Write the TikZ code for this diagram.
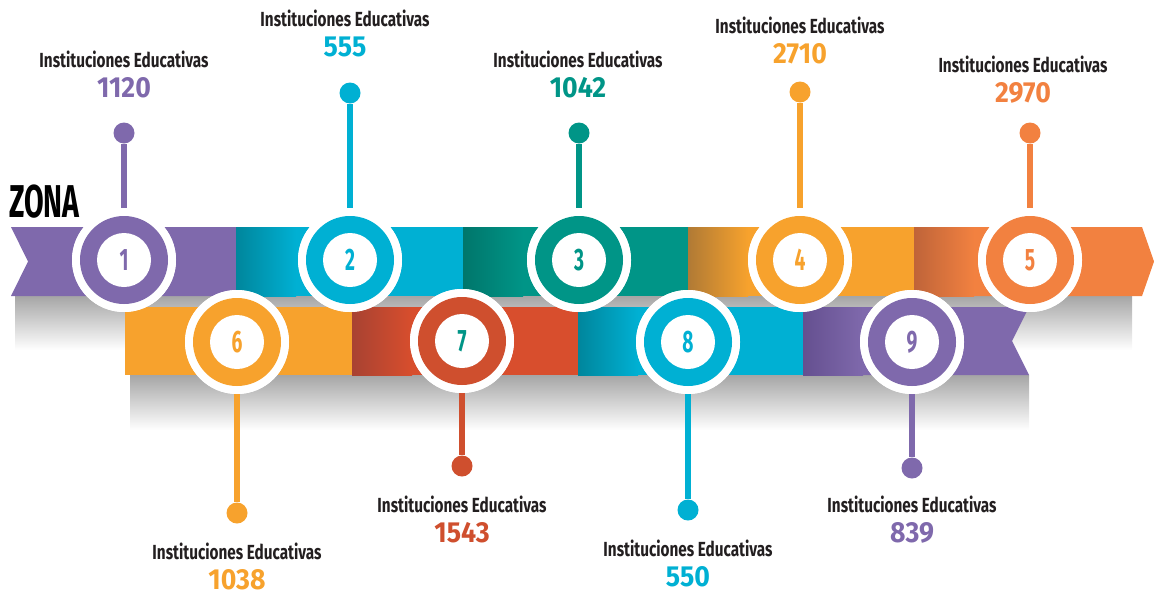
\documentclass[tikz,border=0pt]{standalone}
\usepackage{fontspec}
\setmainfont{Fira Sans}
\newfontfamily\labfont[FakeStretch=0.75]{Fira Sans}
\newfontfamily\valfont[FakeStretch=0.92]{Fira Sans}
\newfontfamily\numfont[FakeStretch=0.62]{Fira Sans}
\definecolor{cpurple}{HTML}{7F69AC}
\definecolor{cblue}{HTML}{00B0D3}
\definecolor{cteal}{HTML}{009587}
\definecolor{cyellow}{HTML}{F7A22D}
\definecolor{corange}{HTML}{F28140}
\definecolor{cred}{HTML}{D84E2D}
\definecolor{cred2}{HTML}{CF4F2E}
\definecolor{dblue}{HTML}{00869C}
\definecolor{dteal}{HTML}{00766B}
\definecolor{dyellow}{HTML}{B07A35}
\definecolor{dorange}{HTML}{BF6439}
\definecolor{dred}{HTML}{A84232}
\definecolor{dpurple}{HTML}{655090}
\definecolor{ctext}{HTML}{231F20}
\begin{document}
\begin{tikzpicture}[x=0.5pt,y=-0.5pt,
  outer/.style={circle,fill=white,minimum size=52pt,inner sep=0pt},
  dotnode/.style={circle,fill=#1,minimum size=10.5pt,inner sep=0pt},
  stem/.style={draw=#1,line width=3pt},
  title/.style={anchor=base,text=ctext,font=\labfont\bfseries\fontsize{10.2}{12}\selectfont,inner sep=0pt},
  value/.style={anchor=base,text=#1,font=\valfont\bfseries\fontsize{14.5}{16}\selectfont,inner sep=0pt},
  digit/.style={text=#1,font=\numfont\bfseries\fontsize{15.5}{17}\selectfont,inner sep=0pt}]
\useasboundingbox (0,0) rectangle (1154,594);
% shadows
\shade[top color=black!35,bottom color=white] (15,296) rectangle (1132,350);
\shade[top color=black!35,bottom color=white] (130,375) rectangle (1029,430);
% bottom band
\fill[cyellow] (125,307) rectangle (352,375);
\fill[cred] (352,307) rectangle (578,375);
\shade[left color=dred,right color=cred] (352,307) rectangle (412,375);
\fill[cblue] (578,307) rectangle (803,375);
\shade[left color=dblue,right color=cblue] (578,307) rectangle (638,375);
\fill[cpurple] (803,307) -- (1029,307) -- (1012,341) -- (1029,375) -- (803,375) -- cycle;
\shade[left color=dpurple,right color=cpurple] (803,307) rectangle (863,375);
% top band
\fill[cpurple] (11,227) -- (236,227) -- (236,296) -- (11,296) -- (28,261.5) -- cycle;
\fill[cblue] (236,227) rectangle (463,296);
\shade[left color=dblue,right color=cblue] (236,227) rectangle (296,296);
\fill[cteal] (463,227) rectangle (688,296);
\shade[left color=dteal,right color=cteal] (463,227) rectangle (523,296);
\fill[cyellow] (688,227) rectangle (914,296);
\shade[left color=dyellow,right color=cyellow] (688,227) rectangle (748,296);
\fill[corange] (914,227) -- (1142,227) -- (1154,261.5) -- (1142,296) -- (914,296) -- cycle;
\shade[left color=dorange,right color=corange] (914,227) rectangle (974,296);
% ZONA
\node[anchor=base west,text=black,font=\numfont\bfseries\fontsize{23}{25}\selectfont,inner sep=0pt] (zona) at (9,217) {ZONA};
% circles, dots, stems, labels
\foreach \i/\cx/\cy/\dy/\col/\tcol/\lx/\ly/\val in {
  1/124/260/133/cpurple/cpurple/124/60/1120,
  2/350/260/93/cblue/cblue/345/19/555,
  3/579/260/133/cteal/cteal/578/60/1042,
  4/800/260/92/cyellow/cyellow/800/26/2710,
  5/1030/260/133/corange/corange/1023/65/2970,
  6/237/342/513/cyellow/cyellow/237/552/1038,
  7/462/341/466/cred2/cteal/462/505/1543,
  8/688/342/510/cblue/cblue/688/549/550,
  9/912/342/468/cpurple/cpurple/912/505/839}{
  \node[dotnode=\col] (d\i) at (\cx,\dy) {};
  \node[outer] (c\i) at (\cx,\cy) {};
  \draw[stem=\col] (d\i) -- (c\i);
  \node[outer] at (c\i) {};
  \fill[\col] (c\i) circle[radius=44];
  \fill[white] (c\i) circle[radius=27];
  \node[digit=\tcol] (n\i) at (c\i) {\i};
  \node[title] (t\i) at (\lx,\ly+7) {Instituciones Educativas};
  \node[value=\col] (v\i) at (\lx,\ly+37) {\val};
}
\end{tikzpicture}
\end{document}
